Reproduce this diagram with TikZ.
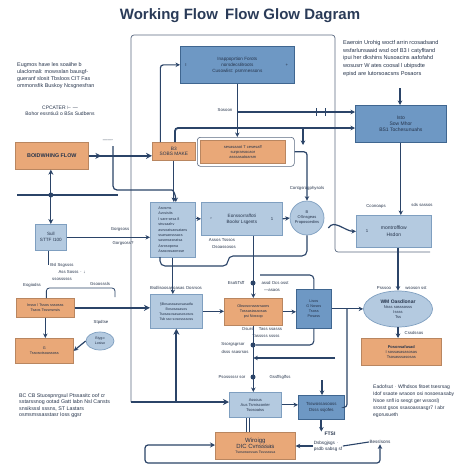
\documentclass[tikz,border=0pt]{standalone}
\usepackage{fontspec}
\setmainfont{Liberation Sans}
\usetikzlibrary{arrows.meta,shapes.geometric,decorations.markings,calc}
\definecolor{navy}{HTML}{2B4468}
\definecolor{ofill}{HTML}{E9A878}
\definecolor{odraw}{HTML}{B98660}
\definecolor{mfill}{HTML}{6E98C4}
\definecolor{mdraw}{HTML}{3F6690}
\definecolor{lfill}{HTML}{B4CAE0}
\definecolor{ldraw}{HTML}{7F9FC0}
\definecolor{txt}{HTML}{26344B}
\definecolor{frm}{HTML}{5B6A82}
\definecolor{ttl}{HTML}{2A3B58}
\tikzset{
 bx/.style={anchor=north west, align=center, inner sep=1pt, font=\fontsize{4.3}{5.2}\selectfont, text=txt, line width=0.7pt},
 obox/.style={bx, fill=ofill, draw=odraw},
 mbox/.style={bx, fill=mfill, draw=mdraw},
 lbox/.style={bx, fill=lfill, draw=ldraw},
 lbl/.style={font=\fontsize{4.3}{5.2}\selectfont, text=txt, inner sep=0.5pt, align=left},
 para/.style={text=txt, inner sep=0pt, align=left, anchor=north west},
 conn/.style={color=navy, line width=1.2pt, -{Stealth[length=4.5pt,width=4.5pt]}},
 thk/.style={color=navy, line width=2pt, -{Stealth[length=6pt,width=6pt]}},
 ln/.style={color=navy, line width=1.1pt},
 fthin/.style={draw=frm, line width=0.7pt},
 dotn/.style={circle, fill=navy, inner sep=0pt, minimum size=5pt},
 midarr/.style={postaction={decorate}, decoration={markings, mark=at position #1 with {\arrow{Stealth[length=6pt,width=6pt]}}}},
}
\begin{document}
\begin{tikzpicture}[x=1pt,y=-1pt]
\fill[white] (0,0) rectangle (474,474);
\useasboundingbox (0,0) rectangle (474,474);

% title
\node[font=\fontsize{15}{18}\selectfont\bfseries, text=ttl] (title) at (240,16) {Working Flow\hspace{3pt} Flow Glow Dagram};

% frame
\coordinate (fa) at (131,402); \coordinate (fb) at (131,35);
\coordinate (fc) at (335,35); \coordinate (fd) at (335,252); \coordinate (fe) at (430,252);
\draw[fthin, rounded corners=3pt] (fa) -- (fb) -- (fc) -- (fd) -- (fe);

% paragraphs
\node[para, font=\fontsize{5.4}{7}\selectfont] (ptl) at (17,62) {Eugmos have les soaiihe b\\ulaclomali: mowsslan bausgf-\\gueranf slosit Tbsloos CIT Fas\\ommonsfik Buskoy Ncsgnesfran};
\node[lbl, font=\fontsize{5}{6}\selectfont, align=center] (ptl2) at (60,111) {CPCATER $\vdash$ ---\\Bohor essntiu3 o BSs Sudbens};
\node[para, font=\fontsize{5.6}{7.8}\selectfont] (ptr) at (343,40) {Eaeroin Urohig woctf arrin rcosadsand\\wsfarlunsaaid wsd oof B3 I catyfltand\\ipui her dkshins Nusoacins aafofahd\\wosusrr W ates coosal l ubipsdte\\episd are lutorsoacsns Posaors};
\node[para, font=\fontsize{5.3}{6.6}\selectfont] (pbl) at (19,393) {BC CB Stuospnrgsul Ptssasitc oof cr\\sstarssnog ootad Gatt Iabn Nsl Cansts\\snsiksssl sssns, ST Lastars\\osmsmssasstasr Ioss ggsr};
\node[para, font=\fontsize{5}{7}\selectfont] (pbr) at (373,385) {Eadofsut $\cdot$ Wfhdsos fitoet tsesrsag\\Idof ssaote wraoon osi nosoesasaby\\Nsoe snfl io sesgt ger wssosl)\\srosst gsos ssasoassasgr7 I abr\\egorusueth};

% boxes
\node[mbox, minimum width=114pt, minimum height=37pt, font=\fontsize{4.6}{6}\selectfont] (topblue) at (180,46) {Inappoprtion Forots\\norsdecsBroots\\Cusowlist: psmrnessons};
\node[lbl] at (186,65) {I}; \node[lbl] at (287,65) {+};
\node[obox, minimum width=73pt, minimum height=27pt, font=\fontsize{5.4}{6}\selectfont\bfseries] (boid) at (15,142) {BOIDWHING FLOW};
\node[obox, minimum width=43pt, minimum height=18pt, font=\fontsize{4.8}{5.6}\selectfont] (b3) at (152,142) {B3\\SOBS MAKE};
\node[draw=frm, rounded corners=3pt, minimum width=97pt, minimum height=29pt, anchor=north west, line width=0.6pt] (owout) at (197,137) {};
\node[obox, minimum width=85pt, minimum height=23pt, font=\fontsize{4}{5}\selectfont] (owide) at (200,140) {sesasaaot T cesesaff\\surprarsocaor\\asssasatoarsm};
\node[mbox, minimum width=91pt, minimum height=37pt, font=\fontsize{5}{6.2}\selectfont] (rblue) at (355,105) {Isto\\Sow Mhor\\BS1 Tochesunuahs};
\node[lbox, minimum width=31pt, minimum height=26pt, font=\fontsize{4.6}{6}\selectfont] (sull) at (35,224) {Sull\\STTF I100};
\node[lbox, minimum width=45pt, minimum height=55pt, font=\fontsize{3.7}{5.4}\selectfont, align=left] (tall) at (150,202) {Asosms\\Avcsisits\\I sare sesa 8\\strusaahv\\asrsoatsaosatans\\ssarsaosssacs\\sasoroasnatsa\\Asrosopona\\Asasossaonsse};
\node[lbox, minimum width=81pt, minimum height=33pt, font=\fontsize{4.6}{6}\selectfont] (mid) at (201,202) {Eonssorraffoti\\Boolsr Lsgents};
\node[lbl] at (211,219) {›}; \node[lbl] at (272,219) {1};
\node[lbox, circle, anchor=center, minimum size=34pt, inner sep=0pt, font=\fontsize{4}{5}\selectfont] (circ) at (307,218) {B\\OSnsgeas\\Proposoedins};
\node[lbox, minimum width=75pt, minimum height=32pt, font=\fontsize{5}{6.4}\selectfont] (montro) at (356,215) {montrofflow\\Hsdon};
\node[lbl] at (367,231) {1};
\node[obox, minimum width=58pt, minimum height=19pt, font=\fontsize{3.8}{5}\selectfont] (inseo) at (16,298) {Insso / Tssos sssosss\\Tsaos Tsssnsnsis};
\node[obox, minimum width=58pt, minimum height=25pt, font=\fontsize{3.8}{5}\selectfont] (gbox) at (15,338) {G\\Tssosotsoassoss};
\node[lbox, ellipse, anchor=center, minimum width=28pt, minimum height=18pt, inner sep=0pt, font=\fontsize{3.6}{4.6}\selectfont] (smell) at (100,341) {Biygo\\Losiso};
\node[lbox, minimum width=52pt, minimum height=34pt, font=\fontsize{3.6}{5}\selectfont] (sbo) at (150,294) {\S Bosasssasosasatfa\\Bososasasos\\Tsosasosasasososos\\Tsb sso sosossssoss};
\node[obox, minimum width=58pt, minimum height=27pt, font=\fontsize{3.8}{5}\selectfont] (ocen) at (224,298) {Obsosonaasrsaors\\Tossasiasaosas\\psi Nossop};
\node[mbox, minimum width=35pt, minimum height=39pt, font=\fontsize{3.8}{5}\selectfont] (bsmall) at (296,289) {Lisos\\G Nosos\\Tsoss\\Posass};
\node[lbox, ellipse, anchor=center, minimum width=69pt, minimum height=36pt, inner sep=0pt, font=\fontsize{4}{5}\selectfont] (rell) at (398,309) {{\fontsize{5}{6}\selectfont\bfseries WM Oasdlonar}\\Nsss sosssosss\\Issss\\Tss};
\node[obox, minimum width=80pt, minimum height=27pt, font=\fontsize{4}{5.2}\selectfont] (rorange) at (361,338) {\textbf{Posonsafasad}\\I sossasasasosas\\Tsosasssasosas};
\node[lbox, minimum width=52pt, minimum height=25pt, font=\fontsize{4}{5.2}\selectfont] (aus) at (229,392) {Assous\\Aus Tsmisconter\\Tsosoatss};
\node[mbox, minimum width=46pt, minimum height=24pt, font=\fontsize{4.4}{5.8}\selectfont] (tsw) at (298,395) {Tsswossasooss\\Dsss ssjofes};
\node[obox, minimum width=80pt, minimum height=27pt, font=\fontsize{3.6}{5}\selectfont] (borange) at (215,432) {{\fontsize{6}{7}\selectfont Wiroigg}\\{\fontsize{6}{7}\selectfont DIC Cvnsssas}\\Tsosossossas Tsssssssa};

% small labels
\node[lbl] (sos) at (225,110) {Sosoon};
\node[lbl] (cgp) at (307,188) {Contgsragphysols};
\node[lbl] (g1) at (120,229) {Gorgsoss};
\node[lbl] (g2) at (123,243) {Gorgsoss?};
\node[lbl] (lb1) at (62,265) {Bsl Ssgssss};
\node[lbl] (lb2) at (72,272) {Ass Sosss $\cdot$ ↓};
\node[lbl] (lb3) at (62,279) {ssossssss};
\node[lbl] (lb4) at (32,285) {Eogiodss};
\node[lbl] (lb5) at (100,284) {Gsoosssls};
\node[lbl] (stp) at (101,322) {Stpdtse};
\node[lbl] (bsd) at (176,288) {Bsdlisoosasoasas Oosrsos};
\node[lbl] (e5) at (236,283) {Eso5Tsff};
\node[lbl] (as1) at (275,283) {assd Ocs osst};
\node[lbl] (as2) at (272,290) {---asaos};
\node[lbl] (os1) at (262,329) {Osurs \quad Tass ssasss};
\node[lbl] (os2) at (266,336) {Tasssss sssss};
\node[lbl] (ss1) at (233,344) {Ssorgsgrsor};
\node[lbl] (ss2) at (235,352) {dsss ssasrsos};
\node[lbl] (ps1) at (232,377) {Psosssssr sor};
\node[lbl] (ps2) at (280,377) {Gssffsglfss};
\node[lbl] (co1) at (376,206) {Cconoaps};
\node[lbl] (co2) at (422,205) {sds sassos};
\node[lbl] (pr1) at (384,288) {Psssoo};
\node[lbl] (pr2) at (416,288) {wsoson sst};
\node[lbl] (cs1) at (414,333) {Cssdssos};
\node[lbl] (ab1) at (222,240) {Assos Tsssos};
\node[lbl] (ab2) at (224,247) {Dsoassosos};
\node[lbl] (tk) at (108,141) {-------};
\node[lbl, font=\fontsize{5}{6}\selectfont\bfseries] (ftsi) at (330,434) {FTSI};
\node[lbl, font=\fontsize{4.6}{5.8}\selectfont] (dsb) at (328,446) {Dsbsgjsgs $\cdot$\\psdb sabsg sf};
\node[lbl, font=\fontsize{4.6}{5.8}\selectfont] (bess) at (380,442) {Besslsons};

% connectors
\draw[thk, midarr=0.2] (boid.east) -- (boid.east -| b3.west);
\draw[conn, {Stealth[length=5pt,width=5pt]}-{Stealth[length=5pt,width=5pt]}] (sull.north |- boid.south) -- (sull.north);
\coordinate (h1) at (17,195); \coordinate (h2) at (118,195);
\draw[ln, line width=1.6pt] (h1) -- (h2);
\node[dotn] (dh) at (sull.north |- h1) {};
\draw[conn] (sull.east) -- (sull.east -| tall.west);
\coordinate (v1) at (113,146);
\draw[conn, rounded corners=4pt] (v1) -- (113,190) -- (168,190) to[out=0,in=90] ([xshift=3pt]tall.north);
\draw[conn] (b3.south) -- (b3.south |- tall.north);
\draw[conn] (topblue.south) -- (topblue.south |- owout.north);
\coordinate (j1) at (237,112);
\draw[conn] (j1) -- (j1 -| rblue.west);
\draw[ln, line width=0.8pt] (316,108) -- (316,116) (325,108) -- (325,116);
\coordinate (j2) at (175,128);
\draw[conn, line width=1.8pt, rounded corners=3pt] (b3.north -| j2) -- (j2) -- (j2 -| rblue.west);
\coordinate (j3) at (303,128); \coordinate (j4) at (303,145);
\draw[conn] (j3) -- (j4);
\draw[conn, rounded corners=3pt] (owout.east) -| (circ.north);
\draw[conn, rounded corners=3pt] ([xshift=-13.5pt]b3.north) |- (topblue.west);
\coordinate (r0) at (400,88);
\draw[conn] (r0) -- (r0 |- rblue.north);
\draw[conn] (rblue.south) -- (rblue.south |- montro.north);
\draw[conn] ([shift={(4,10)}]circ.east) to[out=60,in=180] (montro.west);
\draw[conn] (rell.north |- montro.south) -- (rell.north);
\draw[conn] (rell.south) -- (rell.south |- rorange.north);
\draw[conn] (bsmall.east) -- (bsmall.east -| rell.west);
\coordinate (k1) at (347,308.5);
\draw[ln, rounded corners=3pt] (k1) |- (tsw.east);
\draw[conn] (tall.east |- mid.west) -- (mid.west);
\draw[conn] (mid.east) -- (circ.west);
\draw[ln, rounded corners=5pt] (circ.south) -- (307,256) -- (228,256) -- (228,266) -- (160,266) -- (160,257);
\draw[conn] (tall.south) -- (tall.south |- sbo.north);
\draw[thk] (inseo.east) -- (inseo.east -| sbo.west);
\draw[conn] (inseo.south) -- (inseo.south |- gbox.north);
\draw[conn] (smell.west) -- (gbox.east);
\draw[ln, line width=0.8pt, rounded corners=2pt] ([xshift=-2pt]sull.south) -- ++(0,14);
\draw[ln, line width=0.8pt, rounded corners=3pt] ([xshift=1pt]inseo.north) |- (115,288) -- (115,297);
\draw[conn] (sbo.east) -- (sbo.east -| ocen.west);
\draw[conn] (ocen.east) -- (ocen.east -| bsmall.west);
\draw[thk] (fa) -- (fa -| aus.west);
\draw[thk] (fa -| sbo.south) -- (sbo.south);
\draw[conn] (mid.south -| ocen.north) -- (ocen.north);
\node[dotn] (d1) at (253,283) {};
\coordinate (k2) at (260,275);
\draw[ln, rounded corners=4pt] (k2) -| (bsmall.north);
\draw[conn] (ocen.south) -- (ocen.south |- aus.north);
\node[dotn] (d2) at (253,345) {};
\node[dotn] (d3) at (253,377) {};
\draw[ln, rounded corners=4pt] (d2) -| (bsmall.south);
\coordinate (k3) at (335,358);
\draw[conn] (k3) -- (k3 -| ocen.south);
\draw[conn] (aus.east) -- (aus.east -| tsw.west);
\coordinate (k4) at (322,380);
\draw[conn, line width=2pt] (k4) -- (k4 |- tsw.north);
\draw[conn, line width=1.8pt] (tsw.south) -- (tsw.south |- ftsi.north);
\draw[conn] (dsb.west) -- (dsb.west -| borange.east);
\draw[ln] (dsb.east) -- (bess.west);
\draw[ln, line width=1pt] ([xshift=-9pt]aus.south) -- ([xshift=-9pt]aus.south |- borange.north);
\draw[ln, line width=1pt] ([xshift=-6pt]aus.south) -- ([xshift=-6pt]aus.south |- borange.north);
\coordinate (b1) at (145,445); \coordinate (b2) at (145,463);
\draw[conn, {Stealth[length=4.5pt,width=4.5pt]}-{Stealth[length=5pt,width=5pt]}, rounded corners=3pt] (bess.south) -- (bess.south |- b2) -- (b2) -- (b1) -- (b1 -| borange.west);
\end{tikzpicture}
\end{document}
